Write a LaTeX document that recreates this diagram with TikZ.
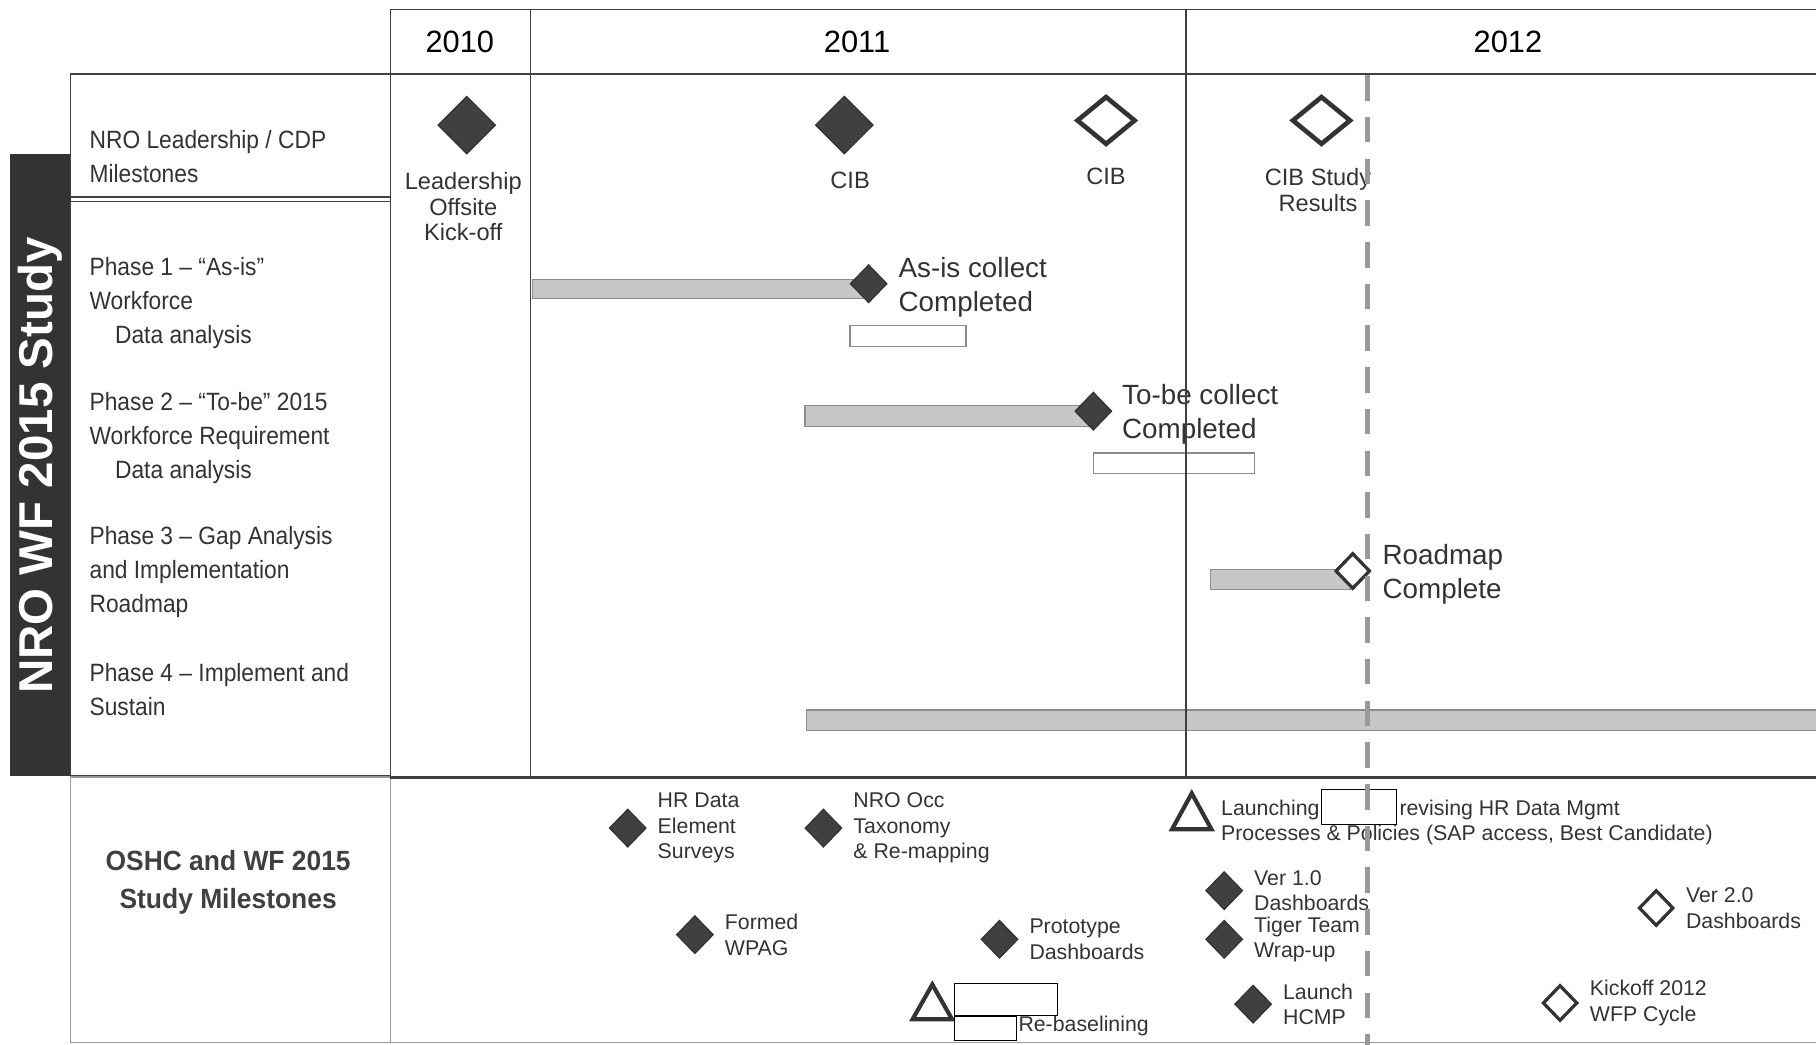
\documentclass[tikz,border=0pt]{standalone}
\usepackage{fontspec}
\setmainfont{Liberation Sans}
\newfontfamily\narrowsf[FakeStretch=0.91]{Liberation Sans}
\newfontfamily\titlesf[FakeStretch=0.95]{Liberation Sans}
\usetikzlibrary{shapes.geometric,positioning}

\tikzset{
  frame/.style={draw=black!75,line width=0.6pt},
  softframe/.style={draw=black!40,line width=0.6pt},
  bar/.style={fill=black!22,draw=black!45,line width=0.5pt},
  slot/.style={draw=black!45,line width=0.6pt,fill=white},
  blank/.style={draw=black,line width=0.4pt,fill=white,inner sep=0pt},
  launch/.style={draw=black!80,line width=1.8pt,line join=miter,fill=white},
  today/.style={draw=black!40,line width=2pt,dash pattern=on 11pt off 7pt}
}

\begin{document}
\begin{tikzpicture}[x=0.5pt,y=-0.5pt,
  year/.style={font=\fontsize{13.3}{16}\selectfont,inner sep=0pt},
  rowlabel/.style={font=\narrowsf\fontsize{10.8}{14.7}\selectfont,text=black!80,align=left,inner sep=0pt,anchor=west},
  leadlabel/.style={font=\fontsize{10.2}{11}\selectfont,text=black!80,align=center,inner sep=0pt},
  phaselabel/.style={font=\fontsize{12}{14.7}\selectfont,text=black!80,align=left,inner sep=0pt},
  note/.style={font=\fontsize{9.2}{11}\selectfont,text=black!80,align=left,inner sep=0pt},
  bigms/.style={diamond,inner sep=0pt,minimum width=25pt,minimum height=25pt,fill=black!75,draw=black!80,line width=0.5pt},
  bigopen/.style={diamond,inner sep=0pt,minimum width=25.5pt,minimum height=21pt,draw=black!80,line width=2pt,fill=white},
  ms/.style={diamond,inner sep=0pt,minimum width=16pt,minimum height=16.5pt,fill=black!75,draw=black!80,line width=0.5pt},
  openms/.style={diamond,inner sep=0pt,minimum width=15pt,minimum height=15.5pt,draw=black!80,line width=1.4pt,fill=white}]
\useasboundingbox (0,0) rectangle (1568,902);

% side band
\fill[black!80] (9,133) rectangle (61,670);
\node[rotate=90,text=white,inner sep=0pt,font=\bfseries\fontsize{20.5}{24}\selectfont] (study) at (35,402) {NRO WF 2015 Study};

% row labels
\node[rowlabel] (leadrow) at (77,135) {NRO Leadership / CDP\\Milestones};
\node[rowlabel] (phase1) at (77,262) {Phase 1 – “As-is”\\Workforce\\\hspace*{11pt}Data analysis};
\node[rowlabel] (phase2) at (77,378) {Phase 2 – “To-be” 2015\\Workforce Requirement\\\hspace*{11pt}Data analysis};
\node[rowlabel] (phase3) at (77,494) {Phase 3 – Gap Analysis\\and Implementation\\Roadmap};
\node[rowlabel] (phase4) at (77,595) {Phase 4 – Implement and\\Sustain};
\node[inner sep=0pt,align=center,text=black!75,font=\titlesf\bfseries\fontsize{12}{16.5}\selectfont] (oshc) at (197,762) {OSHC and WF 2015\\Study Milestones};

% years
\node[year] (y2010) at (397,36) {2010};
\node[year] (y2011) at (740,36) {2011};
\node[year] (y2012) at (1302,36) {2012};

% leadership milestones
\node[bigms] (kickoff) at (403,108) {};
\node[leadlabel,below=7.5pt of kickoff,xshift=-1.5pt] (kickoffl) {Leadership\\Offsite\\Kick-off};
\node[bigms] (cib1) at (729,108) {};
\node[leadlabel,below=7.5pt of cib1,xshift=2.5pt] (cib1l) {CIB};
\node[bigopen] (cib2) at (955,104) {};
\node[leadlabel,below=9pt of cib2] (cib2l) {CIB};
\node[bigopen] (cib3) at (1141,104) {};
\node[leadlabel,below=9pt of cib3,xshift=-1.5pt] (cib3l) {CIB Study\\Results};

% phase bars
\draw[bar] (460,241) rectangle (750,258);
\node[ms] (asis) at (750,245) {};
\node[phaselabel,right=4.5pt of asis,yshift=-1.5pt] (asisl) {As-is collect\\Completed};
\draw[slot] (734,281) rectangle (834,299);

\draw[bar] (695,350) rectangle (944,368);
\node[ms] (tobe) at (944,355) {};
\node[phaselabel,right=4pt of tobe,yshift=-1.5pt] (tobel) {To-be collect\\Completed};
\draw[slot] (944,391) rectangle (1083,409);

\draw[bar] (1045,492) rectangle (1166,509);
\node[openms] (roadmap) at (1168,493) {};
\node[phaselabel,right=4.5pt of roadmap,yshift=-1.5pt] (roadmapl) {Roadmap\\Complete};

\draw[bar] (696,613) rectangle (1572,631);

% study milestones
\node[ms] (hrdata) at (542,715) {};
\node[note,right=4.5pt of hrdata] (hrdatal) {HR Data\\Element\\Surveys};
\node[ms] (occ) at (711,715) {};
\node[note,right=4.5pt of occ] (occl) {NRO Occ\\Taxonomy\\\& Re-mapping};
\node[ms] (wpag) at (600,807) {};
\node[note,right=4.5pt of wpag] (wpagl) {Formed\\WPAG};
\node[ms] (proto) at (863,811) {};
\node[note,right=4.5pt of proto] (protol) {Prototype\\Dashboards};
\node[ms] (ver1) at (1057,769) {};
\node[note,right=4.5pt of ver1] (ver1l) {Ver 1.0\\Dashboards};
\node[ms] (tiger) at (1057,811) {};
\node[note,right=4.5pt of tiger] (tigerl) {Tiger Team\\Wrap-up};
\node[ms] (hcmp) at (1082,867) {};
\node[note,right=4.5pt of hcmp] (hcmpl) {Launch\\HCMP};
\node[openms] (ver2) at (1430,784) {};
\node[note,right=4.5pt of ver2] (ver2l) {Ver 2.0\\Dashboards};
\node[openms] (wfp) at (1347,866) {};
\node[note,right=4.5pt of wfp] (wfpl) {Kickoff 2012\\WFP Cycle};

\draw[launch] (1029,685) -- (1046,716) -- (1012,716) -- cycle;
\node[note,anchor=west] (launcha) at (1054,699) {Launching};
\node[blank,minimum width=32.5pt,minimum height=15pt] (hid1) at (1173.5,697) {};
\node[note,anchor=west] (launchb) at (1208,699) {revising HR Data Mgmt};
\node[note,anchor=west] (launchc) at (1054,721) {Processes \& Policies (SAP access, Best Candidate)};

\draw[launch] (805,850) -- (822,880) -- (788,880) -- cycle;
\node[blank,minimum width=44.5pt,minimum height=14pt] (hid2) at (868.5,863) {};
\node[blank,minimum width=27pt,minimum height=10pt] (hid3) at (851,888) {};
\node[note,anchor=west] (rebase) at (879,886) {Re-baselining};

% grid
\draw[frame] (61,64) rectangle (337,170);
\draw[frame] (61,174) rectangle (337,670);
\draw[softframe] (61,671) rectangle (337,900);
\draw[softframe] (337,900) -- (1568,900);
\draw[frame] (337,8) -- (1568,8);
\draw[frame] (337,64) -- (1568,64);
\draw[frame] (337,8) -- (337,670);
\draw[frame] (458,8) -- (458,670);
\draw[frame] (1024,8) -- (1024,670);
\draw[frame,line width=1.3pt] (337,671) -- (1568,671);
\draw[today] (1181,65) -- (1181,902);
\end{tikzpicture}
\end{document}
